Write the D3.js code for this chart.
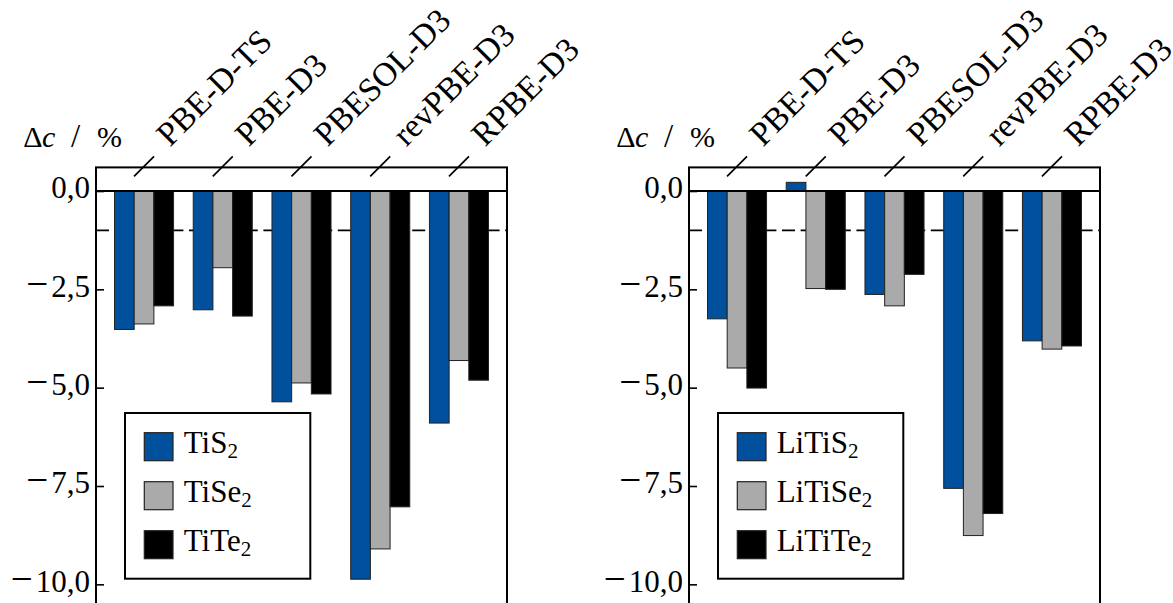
<!DOCTYPE html>
<html>
<head>
<meta charset="utf-8">
<script src="https://cdn.jsdelivr.net/npm/d3@7"></script>
<style>
  html, body { margin: 0; padding: 0; background: #fff; }
  svg { display: block; }
  text { font-family: "Liberation Serif", "DejaVu Serif", serif; fill: #000; }
</style>
</head>
<body>
<svg id="chart" width="1173" height="603"></svg>
<script>
// ---- data ----
const categories = ["PBE-D-TS", "PBE-D3", "PBESOL-D3", "revPBE-D3", "RPBE-D3"];

const leftNames = ["TiS2", "TiSe2", "TiTe2"];
const TiS2  = [-3.52, -3.02, -5.36, -9.87, -5.90];
const TiSe2 = [-3.38, -1.95, -4.88, -9.10, -4.31];
const TiTe2 = [-2.92, -3.18, -5.16, -8.03, -4.81];

const rightNames = ["LiTiS2", "LiTiSe2", "LiTiTe2"];
const LiTiS2  = [-3.25, 0.22, -2.63, -7.56, -3.81];
const LiTiSe2 = [-4.50, -2.48, -2.92, -8.76, -4.02];
const LiTiTe2 = [-5.01, -2.50, -2.12, -8.20, -3.94];

const yTicks = [0, -2.5, -5, -7.5, -10];
const refValue = -1;
const yLabel = ["Δ", "c", "/", "%"];
const seriesColors = ["#00509e", "#aaaaaa", "#000000"];

// ---- layout ----
const svg = d3.select("#chart");
const panelW = 411;
const panelTop = 167.4, panelBottom = 604;
const panels = [
  { left: 96,  names: leftNames,  series: [TiS2, TiSe2, TiTe2] },
  { left: 689, names: rightNames, series: [LiTiS2, LiTiSe2, LiTiTe2] }
];

const y = d3.scaleLinear().domain([0.6, -10.5]).range([panelTop, panelBottom]);
const x = d3.scaleLinear().domain([-0.61, 4.61]).range([0, panelW]);
const barW = 0.25;
const fmtNum = v => Math.abs(v).toFixed(1).replace(".", ",");

panels.forEach(p => {
  const g = svg.append("g").attr("transform", `translate(${p.left},0)`);

  // reference dashed line (beneath bars)
  g.append("line")
    .attr("x1", 0).attr("x2", panelW)
    .attr("y1", y(refValue)).attr("y2", y(refValue))
    .attr("stroke", "#000").attr("stroke-width", 1.7)
    .attr("stroke-dasharray", "13,5.6");

  // bars
  p.series.forEach((vals, k) => {
    g.selectAll(null).data(vals).enter().append("rect")
      .attr("x", (d, i) => x(i + (k - 1) * barW - barW / 2))
      .attr("width", x(barW) - x(0))
      .attr("y", d => y(Math.max(0, d)))
      .attr("height", d => Math.abs(y(d) - y(0)))
      .attr("fill", seriesColors[k])
      .attr("stroke", "#222").attr("stroke-width", 1);
  });

  // zero line
  g.append("line")
    .attr("x1", 0).attr("x2", panelW)
    .attr("y1", y(0)).attr("y2", y(0))
    .attr("stroke", "#000").attr("stroke-width", 2);

  // y axis (inward ticks)
  const ax = g.append("g").call(
    d3.axisLeft(y).tickValues(yTicks).tickSize(-8).tickPadding(6)
  );
  ax.select(".domain").remove();
  ax.selectAll(".tick line").attr("stroke", "#000").attr("stroke-width", 1.6);
  ax.selectAll(".tick text")
    .attr("font-size", 31).attr("dy", "0.22em").attr("fill", "#000")
    .each(function(d) {
      const t = d3.select(this).text("");
      if (d < 0) {
        t.append("tspan").attr("font-size", 39).text("\u2212");
        t.append("tspan").attr("dx", 3).text(fmtNum(d));
      } else {
        t.append("tspan").text(fmtNum(d));
      }
    });

  // frame
  g.append("rect")
    .attr("x", 0).attr("y", panelTop)
    .attr("width", panelW).attr("height", panelBottom - panelTop)
    .attr("fill", "none").attr("stroke", "#000").attr("stroke-width", 2);

  // top slanted ticks + rotated category labels
  categories.forEach((c, i) => {
    const cx = x(i);
    g.append("line")
      .attr("x1", cx - 10).attr("y1", panelTop + 9)
      .attr("x2", cx + 10).attr("y2", panelTop - 11)
      .attr("stroke", "#000").attr("stroke-width", 1.7);
    g.append("text")
      .attr("transform", `translate(${cx + 26},${panelTop - 20}) rotate(-45)`)
      .attr("font-size", 33.5)
      .text(c);
  });

  // y label
  const yl = g.append("text").attr("y", 147.3).attr("font-size", 30);
  yl.append("tspan").attr("x", -72.7).text(yLabel[0]);
  yl.append("tspan").attr("x", -54).attr("font-style", "italic").text(yLabel[1]);
  yl.append("tspan").attr("x", -25).attr("font-size", 33).text(yLabel[2]);
  yl.append("tspan").attr("x", 1).text(yLabel[3]);

  // legend
  const lg = g.append("g").attr("transform", "translate(29,413)");
  lg.append("rect").attr("width", 185.3).attr("height", 165.7)
    .attr("fill", "#fff").attr("stroke", "#000").attr("stroke-width", 2);
  p.names.forEach((n, k) => {
    const yy = 19.7 + k * 49;
    lg.append("rect")
      .attr("x", 19.3).attr("y", yy)
      .attr("width", 28.7).attr("height", 28)
      .attr("fill", seriesColors[k]).attr("stroke", "#222").attr("stroke-width", 1.2);
    const m = n.match(/^(.*?)(\d+)$/);
    const t = lg.append("text")
      .attr("x", 58.7).attr("y", yy + 20)
      .attr("font-size", 31);
    t.append("tspan").text(m[1]);
    t.append("tspan").attr("font-size", 21).attr("dy", 5).text(m[2]);
  });
});
</script>
</body>
</html>
